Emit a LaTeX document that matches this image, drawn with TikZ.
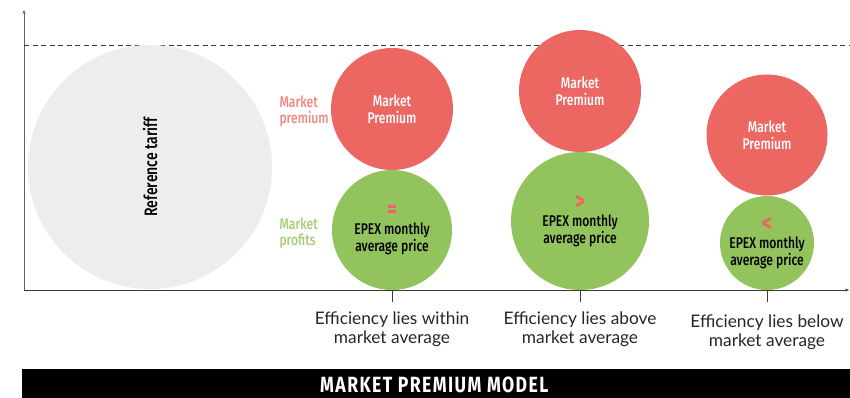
\documentclass[tikz,border=0pt]{standalone}
\usepackage{fontspec}
\usepackage{tikz}
\usetikzlibrary{arrows.meta, positioning}
\usepackage{xcolor}
\setmainfont{Lato}
\newfontfamily\condfont[FakeStretch=0.78]{Fira Sans Medium}
\newfontfamily\titlefont[FakeStretch=0.8, LetterSpace=6.5]{Fira Sans}

\definecolor{premred}{HTML}{EC6662}
\definecolor{profgreen}{HTML}{93C35D}
\definecolor{tariffgray}{HTML}{EDEDED}
\definecolor{labred}{HTML}{F08784}
\definecolor{labgreen}{HTML}{A6CD76}
\definecolor{axisgray}{HTML}{3A3A3A}

\newcommand{\signmark}[1]{{\color{premred}\bfseries\fontsize{24}{20}\selectfont #1}}

\begin{document}
\begin{tikzpicture}[x=1pt, y=-1pt,
    bubble/.style={circle, inner sep=0pt, align=center},
    premium/.style={bubble, fill=premred, text=white, font=\condfont\fontsize{15.5}{17}\selectfont},
    profit/.style={bubble, fill=profgreen, text=black, font=\condfont\fontsize{15.5}{15}\selectfont},
    sidelabel/.style={anchor=west, align=left, font=\condfont\fontsize{15.5}{16}\selectfont},
    caption/.style={anchor=north, align=center, text=black!85, font=\fontsize{17.3}{19.5}\selectfont}]
    \useasboundingbox (0,0) rectangle (850,398);
    % axes
    \coordinate (origin) at (24,290);
    \coordinate (ytop) at (24,10);
    \coordinate (xend) at (849,290);
    \draw[axisgray!80, -{Stealth[length=4pt, width=3pt]}] (origin) -- (ytop);
    \draw[axisgray, -{Stealth[length=4pt, width=3pt]}] (origin) -- (xend);
    \draw[axisgray, dash pattern=on 5pt off 3.5pt] (24,45) -- (850,45);
    % reference tariff
    \node[circle, fill=tariffgray, minimum size=244pt, rotate=90,
        font=\condfont\fontsize{18}{18}\selectfont] (ref) at (150,167) {Reference tariff};
    % side labels
    \node[sidelabel, text=labred] (premlab) at (276,111) {Market\\premium};
    \node[sidelabel, text=labgreen] (proflab) at (276,233) {Market\\profits};
    % within market average
    \node[premium, minimum size=122pt] (prem1) at (392,109) {Market\\Premium};
    \node[profit, minimum size=120pt] (epex1) at (392,230) {\signmark{=}\\[2pt]EPEX monthly\\average price};
    % above market average
    \node[premium, minimum size=122pt] (prem2) at (580,91) {Market\\Premium};
    \node[profit, minimum size=138pt] (epex2) at (580,221) {\signmark{>}\\[2pt]EPEX monthly\\average price};
    % below market average
    \node[premium, minimum size=121pt] (prem3) at (767,135) {Market\\Premium};
    \node[profit, minimum size=94pt] (epex3) at (767,243) {\signmark{<}\\[2pt]EPEX monthly\\average price};
    % ticks and captions
    \coordinate (tick1) at (epex1 |- origin);
    \coordinate (tick2) at (epex2 |- origin);
    \coordinate (tick3) at (epex3 |- origin);
    \draw[axisgray] (tick1) -- ++(0,12);
    \draw[axisgray] (tick2) -- ++(0,12);
    \draw[axisgray] (tick3) -- ++(0,12);
    \node[caption] (cap1) at (392,308) {Efficiency lies within\\market average};
    \node[caption] (cap2) at (580,308) {Efficiency lies above\\market average};
    \node[caption] (cap3) at (767,311) {Efficiency lies below\\market average};
    % title bar
    \node[fill=black, minimum width=828pt, minimum height=29pt, anchor=north west, inner sep=0pt] (bar) at (22,369) {};
    \node[anchor=base west, inner sep=0pt, text=white, font=\titlefont\bfseries\fontsize{22}{22}\selectfont] (title) at (320,392) {MARKET PREMIUM MODEL};
\end{tikzpicture}
\end{document}
